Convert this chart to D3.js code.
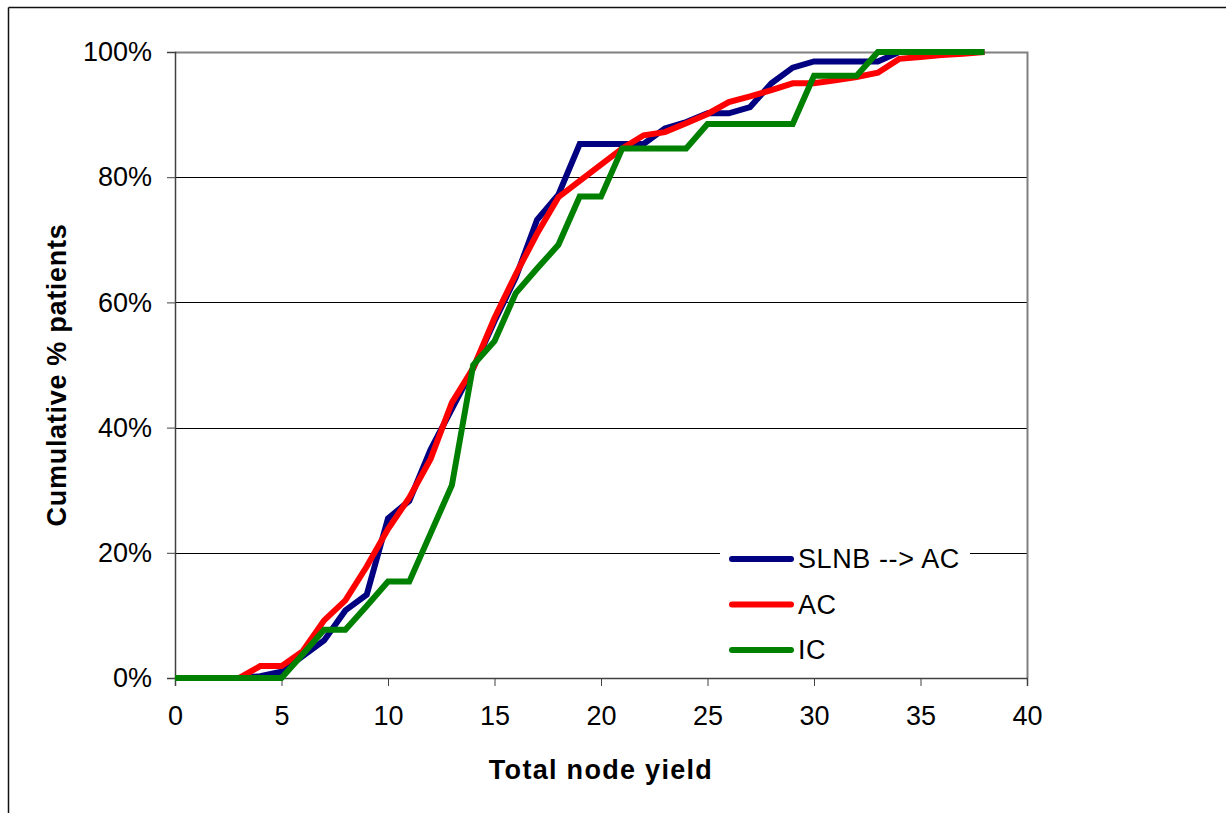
<!DOCTYPE html>
<html>
<head>
<meta charset="utf-8">
<script src="https://cdn.jsdelivr.net/npm/d3@7"></script>
<style>
  body { margin: 0; background: #fff; }
  svg { display: block; font-family: "Liberation Sans", Arial, sans-serif; }
</style>
</head>
<body>
<svg id="chart" width="1226" height="813"></svg>
<script>
// Chart data
const nodeYield = d3.range(0, 39);
const slnbAc = [0, 0, 0, 0, 0.3, 1, 3.5, 6, 10.8, 13.3, 25.5, 28.3, 36.5, 43, 49.5, 57, 64, 73.2, 77.2, 85.3,
    85.3, 85.3, 85.3, 87.8, 88.8, 90.2, 90.2, 91.2, 95, 97.5, 98.5, 98.5, 98.5, 98.5, 100, 100, 100, 100, 100];
const ac = [0, 0, 0, 0, 1.9, 1.9, 4.3, 9.2, 12.4, 17.8, 23.8, 28.8, 35, 44, 49.5, 57.5, 64.5, 71, 76.8, 79.4,
    82, 84.6, 86.7, 87.2, 88.6, 90.1, 92, 92.9, 93.9, 95, 95, 95.5, 96, 96.7, 98.9, 99.2, 99.5, 99.7, 100];
const ic = [0, 0, 0, 0, 0, 0, 3.8, 7.7, 7.7, 11.5, 15.4, 15.4, 23.1, 30.8, 50, 53.8, 61.5, 65.4, 69.2, 76.9,
    76.9, 84.6, 84.6, 84.6, 84.6, 88.5, 88.5, 88.5, 88.5, 88.5, 96.2, 96.2, 96.2, 100, 100, 100, 100, 100, 100];

const seriesNames = ['SLNB --> AC', 'AC', 'IC'];
const seriesColors = ['#000080', '#ff0000', '#008000'];
const xTicks = [0, 5, 10, 15, 20, 25, 30, 35, 40];
const yTicks = [0, 20, 40, 60, 80, 100];

const series = [slnbAc, ac, ic].map((vals, i) => ({
    name: seriesNames[i],
    color: seriesColors[i],
    values: vals.map((v, j) => ({x: nodeYield[j], y: v}))
}));

const svg = d3.select('#chart');
const plot = {left: 175, right: 1027, top: 52, bottom: 678};

const x = d3.scaleLinear().domain([0, 40]).range([plot.left, plot.right]);
const y = d3.scaleLinear().domain([0, 100]).range([plot.bottom, plot.top]);

// outer frame (only top and left are visible)
svg.append('line').attr('x1', 8.5).attr('y1', 7.5).attr('x2', 1226).attr('y2', 7.5)
    .attr('stroke', '#111').attr('stroke-width', 1.5);
svg.append('line').attr('x1', 8.5).attr('y1', 7.5).attr('x2', 8.5).attr('y2', 813)
    .attr('stroke', '#111').attr('stroke-width', 1.5);

// gridlines
svg.append('g')
    .selectAll('line')
    .data(yTicks.filter(t => t > 0 && t < 100))
    .enter()
    .append('line')
    .attr('x1', plot.left).attr('x2', plot.right)
    .attr('y1', d => Math.round(y(d)) + 0.5).attr('y2', d => Math.round(y(d)) + 0.5)
    .attr('stroke', '#000').attr('stroke-width', 1);

// plot area border, top and right (grey)
svg.append('path')
    .attr('d', `M${plot.left},${plot.top + 0.5}H${plot.right + 0.5}V${plot.bottom}`)
    .attr('fill', 'none').attr('stroke', '#808080').attr('stroke-width', 2);

// axes
const yAxis = svg.append('g')
    .attr('transform', `translate(${plot.left},0)`)
    .call(d3.axisLeft(y).tickValues(yTicks).tickFormat(d => d + '%').tickSize(8).tickPadding(15));
const xAxis = svg.append('g')
    .attr('transform', `translate(0,${plot.bottom})`)
    .call(d3.axisBottom(x).tickValues(xTicks).tickSize(8).tickPadding(20));

[xAxis, yAxis].forEach(ax => {
    ax.select('.domain').attr('stroke', '#404040').attr('stroke-width', 1.5);
    ax.selectAll('.tick line').attr('stroke', '#404040').attr('stroke-width', 1);
    ax.selectAll('.tick text').attr('font-size', 27).attr('fill', '#000')
        .attr('font-family', '"Liberation Sans", Arial, sans-serif');
});

// series lines
const line = d3.line().x(d => x(d.x)).y(d => y(d.y));
svg.append('g')
    .selectAll('path')
    .data(series)
    .enter()
    .append('path')
    .attr('d', d => line(d.values))
    .attr('fill', 'none')
    .attr('stroke', d => d.color)
    .attr('stroke-width', 6)
    .attr('stroke-linejoin', 'miter');

// legend
const legend = svg.append('g');
legend.append('rect')
    .attr('x', 720).attr('y', 536).attr('width', 250).attr('height', 136)
    .attr('fill', '#fff');
series.forEach((s, i) => {
    const ly = 559 + i * 45.5;
    legend.append('line')
        .attr('x1', 732).attr('x2', 791).attr('y1', ly).attr('y2', ly)
        .attr('stroke', s.color).attr('stroke-width', 6).attr('stroke-linecap', 'round');
    legend.append('text')
        .attr('x', 798).attr('y', ly).attr('dy', '0.35em')
        .attr('font-size', 27).attr('letter-spacing', 0.6)
        .text(s.name);
});

// axis titles
svg.append('text')
    .attr('x', (plot.left + plot.right) / 2).attr('y', 779)
    .attr('text-anchor', 'middle')
    .attr('font-size', 27).attr('font-weight', 'bold').attr('letter-spacing', 1.3)
    .text('Total node yield');
svg.append('text')
    .attr('transform', `translate(66,${(plot.top + plot.bottom) / 2 + 10}) rotate(-90)`)
    .attr('text-anchor', 'middle')
    .attr('font-size', 27).attr('font-weight', 'bold').attr('letter-spacing', 0.7)
    .text('Cumulative % patients');
</script>
</body>
</html>
